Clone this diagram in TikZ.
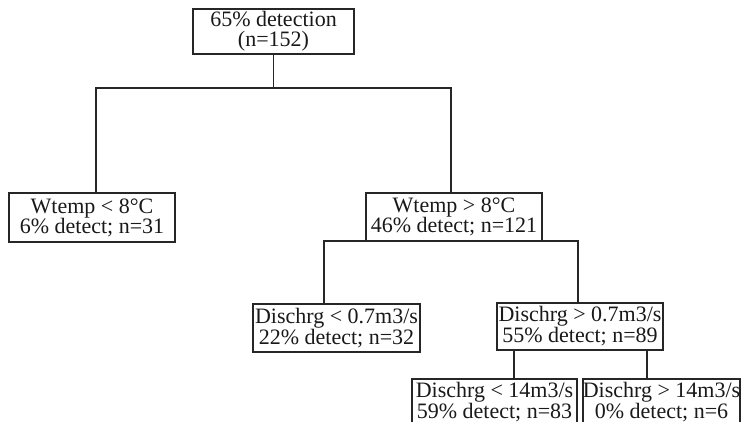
\documentclass[tikz,border=0pt]{standalone}
\usepackage{fontspec}
\setmainfont{Liberation Serif}
\begin{document}
\begin{tikzpicture}[x=1pt,y=-1pt,
  box/.style={draw=black!85, line width=1.8pt, inner sep=0pt, align=center,
    font=\fontsize{22}{20}\selectfont, text=black!90},
  conn/.style={draw=black!85, line width=1.8pt}]
\clip (0,0) rectangle (743,421);
\fill[white] (0,0) rectangle (743,421);
\node[box, minimum width=161pt, minimum height=45pt] (root) at (273.5,31.5) {65\% detection\\(n=152)};
\node[box, minimum width=166pt, minimum height=49pt] (A) at (92,217.5) {Wtemp < 8°C\\6\% detect; n=31};
\node[box, minimum width=176pt, minimum height=48pt] (B) at (454,217) {Wtemp > 8°C\\46\% detect; n=121};
\node[box, minimum width=167pt, minimum height=48pt] (C) at (336.5,328) {Dischrg < 0.7m3/s\\22\% detect; n=32};
\node[box, minimum width=166pt, minimum height=47pt] (D) at (580,326.5) {Dischrg > 0.7m3/s\\55\% detect; n=89};
\node[box, minimum width=165pt, minimum height=48pt, anchor=north] (E) at (494.5,378) {Dischrg < 14m3/s\\59\% detect; n=83\\[-14pt]\mbox{}};
\node[box, minimum width=157pt, minimum height=48pt, anchor=north] (F) at (661.5,378) {Dischrg > 14m3/s\\0\% detect; n=6\\[-14pt]\mbox{}};
\coordinate (rl) at (96,88);
\coordinate (rr) at (451,88);
\coordinate (bl) at (324,241);
\coordinate (br) at (578,241);
\coordinate (dl) at (514,0);
\coordinate (dr) at (647,0);
\draw[conn] (root.south) -- (root.south |- rl);
\draw[conn] (A.north -| rl) -- (rl) -- (rr) -- (B.north -| rr);
\draw[conn] (C.north -| bl) -- (bl) -- (br) -- (D.north -| br);
\draw[conn] (D.south -| dl) -- (E.north -| dl);
\draw[conn] (D.south -| dr) -- (F.north -| dr);
\end{tikzpicture}
\end{document}
